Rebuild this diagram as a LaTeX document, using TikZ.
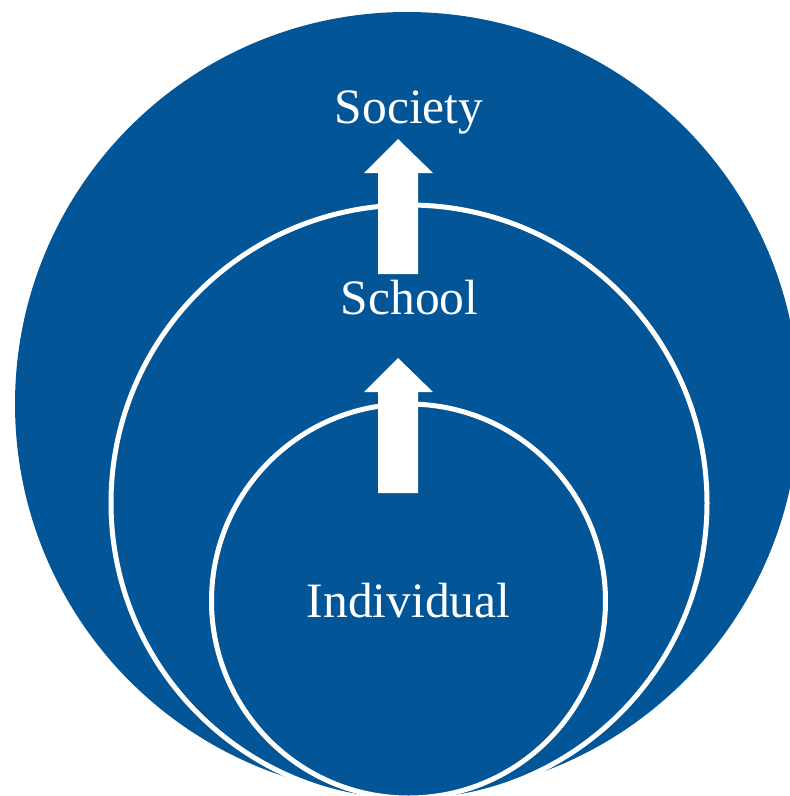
\documentclass[tikz,border=0pt]{standalone}
\usepackage{fontspec}
\setmainfont{Liberation Serif}
\definecolor{deepblue}{RGB}{2,86,151}
\begin{document}
\begin{tikzpicture}[x=1pt,y=-1pt,
  ring/.style={fill=deepblue,draw=white,line width=5pt},
  uparrow/.style={fill=white,draw=none},
  levellabel/.style={text=white,anchor=base,inner sep=0pt,
    font=\fontsize{49.5}{58}\selectfont}]
  \useasboundingbox (0,0) rectangle (790,796);

  % nested circles, all touching near the bottom
  \coordinate (outerc) at (407,404);
  \coordinate (middlec) at (409,503);
  \coordinate (innerc) at (408.5,601);
  \fill[deepblue] (outerc) circle[radius=392pt];
  \draw[ring] (middlec) circle[radius=298pt];
  \draw[ring] (innerc) circle[radius=197pt];

  % block arrows pointing upwards
  \fill[uparrow] (378,274) -- (378,173) -- (364,173) -- (398,139)
    -- (433,173) -- (418,173) -- (418,274) -- cycle;
  \fill[uparrow] (378,493) -- (378,392) -- (364,392) -- (398,358)
    -- (433,392) -- (418,392) -- (418,493) -- cycle;

  % labels
  \node[levellabel] (society) at (409,123) {Society};
  \node[levellabel] (school) at (409.5,314) {School};
  \node[levellabel] (individual) at (408.5,617) {Individual};
\end{tikzpicture}
\end{document}
